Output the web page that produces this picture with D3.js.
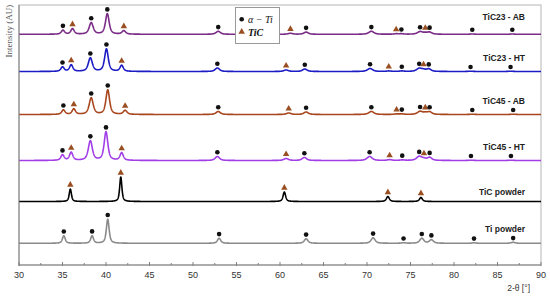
<!DOCTYPE html>
<html><head><meta charset="utf-8">
<script src="https://cdn.jsdelivr.net/npm/d3@7"></script>
<style>body{margin:0;background:#fff}svg{display:block}</style>
</head><body><svg id="c" width="550" height="298"></svg>
<script>
// ---- data ----
const categories = ["TiC23 - AB","TiC23 - HT","TiC45 - AB","TiC45 - HT","TiC powder","Ti powder"];
const offsets = [230.7, 193.5, 150.5, 104.5, 63.5, 21.7];
// peaks: [2theta, height, fwhm, phase]  a = alpha-Ti, c = TiC
const peaksTiC23AB = [[35.05,4,0.45,"a"],[36.15,5.5,0.45,"c"],[38.3,11.5,0.55,"a"],[40.15,20.5,0.5,"a"],[42.05,3.5,0.5,"c"],
  [52.9,3,0.6,"a"],[61.2,1,0.6,"c"],[63.0,2.2,0.6,"a"],[70.5,3,0.7,"a"],[73.35,0.5,0.6,"c"],[73.95,0.5,0.6,"a"],
  [76.1,2.6,0.7,"a"],[76.7,1.2,0.6,"c"],[77.2,2,0.6,"a"],[82.1,0.3,0.6,"a"],[86.7,0.3,0.6,"a"]];
const peaksTiC23HT = [[35.0,4.5,0.45,"a"],[36.0,6.5,0.45,"c"],[38.2,13.5,0.55,"a"],[40.05,22.5,0.5,"a"],[41.8,6,0.45,"c"],
  [52.8,3.5,0.6,"a"],[60.7,1.5,0.6,"c"],[62.85,2.5,0.6,"a"],[70.35,3,0.7,"a"],[72.5,0.5,0.6,"c"],[74.0,0.5,0.6,"a"],
  [76.0,3,0.7,"a"],[76.5,1.5,0.6,"c"],[77.1,2.5,0.6,"a"],[81.9,0.3,0.6,"a"],[86.5,0.3,0.6,"a"]];
const peaksTiC45AB = [[35.1,4.5,0.45,"a"],[36.3,5.5,0.45,"c"],[38.3,16.5,0.55,"a"],[40.2,24.5,0.5,"a"],[42.2,4,0.5,"c"],
  [52.9,3,0.6,"a"],[61.0,1.5,0.6,"c"],[63.0,2.5,0.6,"a"],[70.5,3,0.7,"a"],[73.4,0.5,0.6,"c"],[74.0,0.5,0.6,"a"],
  [76.1,3,0.7,"a"],[76.7,1.5,0.6,"c"],[77.2,2.5,0.6,"a"],[82.1,0.3,0.6,"a"],[86.8,0.3,0.6,"a"]];
const peaksTiC45HT = [[35.0,5.5,0.45,"a"],[36.0,8,0.45,"c"],[38.2,19.5,0.55,"a"],[40.0,28.5,0.5,"a"],[41.8,7.5,0.45,"c"],
  [52.8,4,0.6,"a"],[60.7,2,0.6,"c"],[62.8,3,0.6,"a"],[70.3,4,0.7,"a"],[72.6,0.8,0.6,"c"],[74.05,0.5,0.6,"a"],
  [76.0,4,0.7,"a"],[76.55,1.5,0.6,"c"],[77.2,3,0.6,"a"],[81.95,0.3,0.6,"a"],[86.55,0.3,0.6,"a"]];
const peaksTiCpowder = [[35.9,12.5,0.3,"c"],[41.7,24.5,0.3,"c"],[60.5,9.5,0.35,"c"],[72.4,5,0.4,"c"],[76.2,4,0.4,"c"]];
const peaksTipowder = [[35.15,7.5,0.38,"a"],[38.4,7.5,0.38,"a"],[40.2,24,0.38,"a"],[53.0,5,0.45,"a"],[63.0,4.5,0.5,"a"],
  [70.7,5.5,0.55,"a"],[74.2,0.5,0.5,"a"],[76.3,5,0.55,"a"],[77.4,3.5,0.55,"a"],[82.3,0.5,0.5,"a"],[86.8,1,0.55,"a"]];
const seriesPeaks = [peaksTiC23AB, peaksTiC23HT, peaksTiC45AB, peaksTiC45HT, peaksTiCpowder, peaksTipowder];
const xTicks = [30,35,40,45,50,55,60,65,70,75,80,85,90];
const legendLabels = ["α − Ti", "TiC"];

// ---- styles / layout ----
const colors = ["#7a2c86", "#1c1cc4", "#a9461e", "#a23ee6", "#000000", "#8a8a8a"];
const labelLift = [14, 10.5, 10.5, 10.2, 6.8, 11];
const W = 550, H = 298, m = {l:19, r:9, t:5, b:33};
const svg = d3.select("#c");
const x = d3.scaleLinear().domain([30,90]).range([m.l, W-m.r]);
const y = d3.scaleLinear().domain([0,260]).range([H-m.b, m.t]);

// frame
svg.append("rect").attr("x",m.l).attr("y",m.t).attr("width",W-m.r-m.l).attr("height",H-m.b-m.t)
  .attr("fill","none").attr("stroke","#b5b5b5").attr("stroke-width",1);

function profile(t, peaks){
  let s = 0;
  for (const [p,h,w] of peaks){
    const d = (t-p)/(w/2);
    const L = 1/(1+d*d);
    const G = Math.exp(-Math.LN2*d*d);
    s += h*(0.65*L + 0.35*G);
  }
  return s;
}
const grid = d3.range(30, 90.0001, 0.02);

seriesPeaks.forEach((peaks,i)=>{
  const line = d3.line().x(t=>x(t)).y(t=>y(offsets[i]+profile(t,peaks)));
  svg.append("path").attr("d",line(grid)).attr("fill","none")
    .attr("stroke",colors[i]).attr("stroke-width",1.6).attr("stroke-linejoin","round");
  const g = svg.append("g");
  peaks.forEach(([p,h,w,ph])=>{
    const top = y(offsets[i]+profile(p,peaks)) - 4.2;
    if (ph==="a"){
      g.append("circle").attr("cx",x(p)).attr("cy",top).attr("r",2.3).attr("fill","#111");
    } else {
      g.append("path").attr("d",d3.symbol(d3.symbolTriangle,18)()).attr("transform",`translate(${x(p)},${top})`)
        .attr("fill","#9a4f22");
    }
  });
  svg.append("text").attr("x",525).attr("y",y(offsets[i])-labelLift[i]).attr("text-anchor","end")
    .attr("font-family","Liberation Sans, Arial, sans-serif").attr("font-weight","bold").attr("font-size",8.5)
    .attr("fill","#222").text(categories[i]);
});

// axes
const ax = svg.append("g").attr("transform",`translate(0,${H-m.b})`);
ax.append("line").attr("x1",m.l).attr("x2",W-m.r).attr("stroke","#808080");
svg.append("line").attr("x1",m.l).attr("x2",m.l).attr("y1",m.t).attr("y2",H-m.b+1).attr("stroke","#808080");
d3.range(30, 90.01, 2.5).forEach(v=>{
  const major = Math.abs(v%5)<1e-6;
  ax.append("line").attr("x1",x(v)).attr("x2",x(v)).attr("y1",major?1:0).attr("y2",major?-3:-2)
    .attr("stroke","#808080");
});
ax.selectAll("text.tk").data(xTicks).join("text").attr("class","tk")
  .attr("x",d=>x(d)).attr("y",13).attr("text-anchor","middle")
  .attr("font-family","Liberation Sans, Arial, sans-serif").attr("font-size",9).attr("fill","#333").text(d=>d);
svg.append("text").attr("x",530).attr("y",291).attr("text-anchor","end")
  .attr("font-family","Liberation Sans, Arial, sans-serif").attr("font-size",8.5).attr("fill","#333").text("2-θ [°]");
svg.append("text").attr("transform","translate(12,31) rotate(-90)").attr("text-anchor","middle")
  .attr("font-family","Liberation Serif, Times New Roman, serif").attr("font-size",9).attr("fill","#555").text("Intensity (AU)");

// legend
const lg = svg.append("g");
lg.append("rect").attr("x",235.5).attr("y",7.5).attr("width",44).attr("height",36).attr("fill","#fff").attr("stroke","#999");
lg.append("circle").attr("cx",241.7).attr("cy",19.3).attr("r",2.3).attr("fill","#111");
lg.append("path").attr("d",d3.symbol(d3.symbolTriangle,18)()).attr("transform","translate(241.7,31.8)").attr("fill","#9a4f22");
lg.append("text").attr("x",248).attr("y",22.5).attr("font-family","Liberation Serif, serif").attr("font-style","italic")
  .attr("font-size",10).attr("fill","#111").text(legendLabels[0]);
lg.append("text").attr("x",248).attr("y",35.5).attr("font-family","Liberation Serif, serif").attr("font-style","italic")
  .attr("font-weight","bold").attr("font-size",10).attr("fill","#111").text(legendLabels[1]);
</script></body></html>
